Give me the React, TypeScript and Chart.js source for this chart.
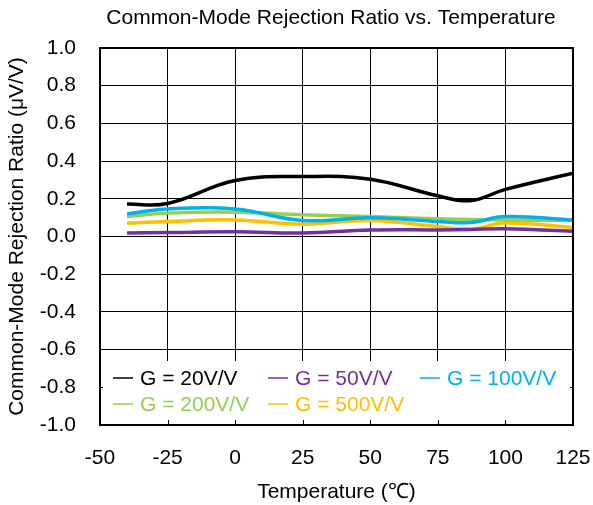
import React, { useEffect, useRef } from "react";
import { Chart, registerables } from "chart.js";

Chart.register(...registerables);

const temps = [-40, -25, 0, 25, 50, 75, 87, 100, 125];
const g20 = [0.172, 0.175, 0.297, 0.318, 0.304, 0.216, 0.19, 0.25, 0.336];
const g50 = [0.019, 0.021, 0.025, 0.019, 0.034, 0.035, 0.037, 0.041, 0.028];
const g100 = [0.12, 0.146, 0.146, 0.085, 0.099, 0.08, 0.074, 0.106, 0.088];
const g200 = [0.106, 0.124, 0.129, 0.115, 0.106, 0.094, 0.09, 0.088, 0.085];
const g500 = [0.071, 0.08, 0.088, 0.065, 0.085, 0.053, 0.039, 0.071, 0.048];

const seriesLabels = ["G = 20V/V", "G = 50V/V", "G = 100V/V", "G = 200V/V", "G = 500V/V"];
const seriesColors = ["#000000", "#7030A0", "#00B0F0", "#92D050", "#FFC000"];
const seriesValues = [g20, g50, g100, g200, g500];

const xTicks = [-50, -25, 0, 25, 50, 75, 100, 125];
const chartTitle = "Common-Mode Rejection Ratio vs. Temperature";

const FONT = "'Liberation Sans', Arial, sans-serif";
const FS = 21;

const framePlugin = {
  id: "frameAndLegend",
  afterDatasetsDraw(chart: any) {
    const { ctx, chartArea } = chart;
    const { left, right, top, bottom } = chartArea;
    ctx.save();
    // legend box
    const boxTop = 361;
    ctx.fillStyle = "#ffffff";
    ctx.fillRect(left + 3, boxTop, right - left - 6, bottom - boxTop);
    ctx.font = `${FS}px ${FONT}`;
    ctx.textBaseline = "middle";
    ctx.textAlign = "left";
    const positions = [
      [113, 378],
      [268, 378],
      [420, 378],
      [113, 404],
      [268, 404],
    ];
    chart.data.datasets.forEach((ds: any, i: number) => {
      const [x, y] = positions[i];
      ctx.strokeStyle = ds.borderColor;
      ctx.lineWidth = 1.5;
      ctx.beginPath();
      ctx.moveTo(x, y);
      ctx.lineTo(x + 20, y);
      ctx.stroke();
      ctx.fillStyle = ds.borderColor;
      ctx.fillText(ds.label, x + 27, y + 1);
    });
    // inner tick marks on bottom
    const xs = chart.scales.x;
    ctx.strokeStyle = "#000";
    ctx.lineWidth = 1;
    xTicks.forEach((t) => {
      const px = Math.round(xs.getPixelForValue(t)) + 0.5;
      ctx.beginPath();
      ctx.moveTo(px, bottom);
      ctx.lineTo(px, bottom - 5);
      ctx.stroke();
    });
    // frame
    ctx.lineWidth = 2;
    ctx.strokeStyle = "#000";
    ctx.strokeRect(left, top, right - left, bottom - top);
    // title
    ctx.fillStyle = "#000";
    ctx.textAlign = "center";
    ctx.textBaseline = "middle";
    ctx.font = `${FS}px ${FONT}`;
    ctx.fillText(chartTitle, 331, 18);
    ctx.restore();
  },
};

export default function App() {
  const ref = useRef<HTMLCanvasElement | null>(null);
  useEffect(() => {
    if (!ref.current) return;
    const chart = new Chart(ref.current, {
      type: "line",
      data: {
        datasets: seriesValues.map((vals, i) => ({
          label: seriesLabels[i],
          data: temps.map((t, j) => ({ x: t, y: vals[j] })),
          borderColor: seriesColors[i],
          backgroundColor: seriesColors[i],
          borderWidth: 3.5,
          pointRadius: 0,
          tension: 0.4,
          fill: false,
        })),
      },
      options: {
        animation: false,
        responsive: false,
        devicePixelRatio: 1,
        layout: { padding: { left: 0, right: 20, top: 48, bottom: 0 } },
        plugins: {
          legend: { display: false },
          tooltip: { enabled: false },
          title: { display: false },
        },
        scales: {
          x: {
            type: "linear",
            min: -50,
            max: 125,
            afterBuildTicks: (s: any) => {
              s.ticks = xTicks.map((v) => ({ value: v }));
            },
            afterFit: (s: any) => {
              s.height = 80;
              s.paddingLeft = 0;
              s.paddingRight = 0;
            },
            grid: { color: "#000", lineWidth: 1, drawTicks: false },
            border: { display: false },
            ticks: {
              color: "#000",
              font: { family: FONT, size: FS },
              padding: 21,
              maxRotation: 0,
              callback: (v: any) => String(v),
            },
            title: {
              display: true,
              text: "Temperature (℃)",
              color: "#000",
              font: { family: FONT, size: FS },
              padding: { top: 0, bottom: 0 },
            },
          },
          y: {
            min: -1,
            max: 1,
            afterFit: (s: any) => {
              s.width = 100;
              s.paddingTop = 0;
              s.paddingBottom = 0;
            },
            grid: { color: "#000", lineWidth: 1, drawTicks: false },
            border: { display: false },
            ticks: {
              stepSize: 0.2,
              color: "#000",
              font: { family: FONT, size: FS },
              padding: 24,
              callback: (v: any) => Number(v).toFixed(1),
            },
            title: {
              display: true,
              text: "Common-Mode Rejection Ratio (μV/V)",
              color: "#000",
              font: { family: FONT, size: FS },
              padding: { top: 5, bottom: 0 },
            },
          },
        },
      },
      plugins: [framePlugin],
    });
    return () => chart.destroy();
  }, []);
  return (
    <div style={{ position: "fixed", left: 0, top: 0, width: 593, height: 505, background: "#fff" }}>
      <canvas ref={ref} width={593} height={505} style={{ width: 593, height: 505 }} />
    </div>
  );
}
